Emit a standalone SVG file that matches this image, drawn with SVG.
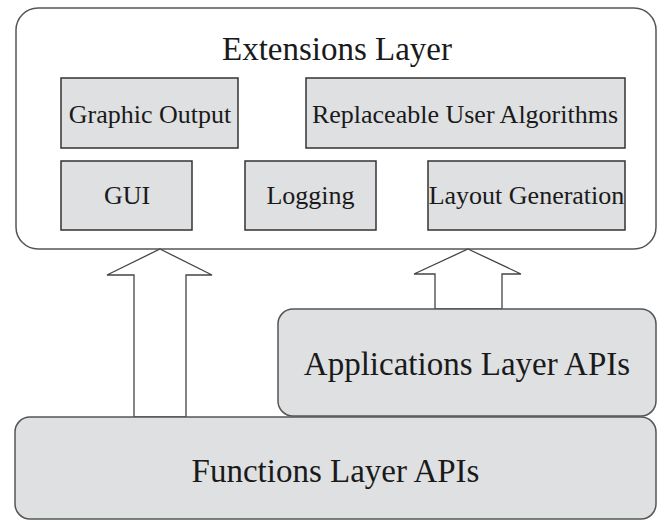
<svg xmlns="http://www.w3.org/2000/svg" width="662" height="521" viewBox="0 0 662 521">
<style>
.layer{fill:#ffffff;stroke:#555555;stroke-width:1.5}
.api{fill:#dfe0e2;stroke:#555555;stroke-width:1.5}
.box{fill:#dfe0e2;stroke:#333333;stroke-width:1.5}
.arrow{fill:#ffffff;stroke:#444444;stroke-width:1.3;stroke-linejoin:miter}
text{font-family:"Liberation Serif","Times New Roman",serif;fill:#1a1a1a;text-anchor:middle}
.big{font-size:33px}
.small{font-size:26px}
</style>
<rect width="662" height="521" fill="#ffffff"/>
<g id="extensions-layer">
<rect class="layer" x="16" y="8" width="640" height="241" rx="22" ry="22"/>
<text class="big" x="337" y="60">Extensions Layer</text>
</g>
<g id="graphic-output">
<rect class="box" x="61" y="78" width="177" height="70"/>
<text class="small" x="150" y="123">Graphic Output</text>
</g>
<g id="replaceable-user-algorithms">
<rect class="box" x="306" y="78" width="319" height="70"/>
<text class="small" x="465" y="123">Replaceable User Algorithms</text>
</g>
<g id="gui">
<rect class="box" x="61" y="161" width="131" height="69"/>
<text class="small" x="127" y="204">GUI</text>
</g>
<g id="logging">
<rect class="box" x="245" y="161" width="131" height="69"/>
<text class="small" x="310.5" y="204">Logging</text>
</g>
<g id="layout-generation">
<rect class="box" x="428" y="161" width="197" height="69"/>
<text class="small" x="526.5" y="204">Layout Generation</text>
</g>
<g id="connectors">
<polygon class="arrow" points="160,249 212,275 186,275 186,417 134,417 134,275 107,275"/>
<polygon class="arrow" points="468,249 521,274 502,274 502,309 435,309 435,274 414,274"/>
</g>
<g id="applications-layer-apis">
<rect class="api" x="278" y="309" width="378" height="107" rx="15" ry="15"/>
<text class="big" x="467" y="375">Applications Layer APIs</text>
</g>
<g id="functions-layer-apis">
<rect class="api" x="15" y="417" width="641" height="102" rx="15" ry="15"/>
<text class="big" x="335.5" y="482">Functions Layer APIs</text>
</g>
</svg>
